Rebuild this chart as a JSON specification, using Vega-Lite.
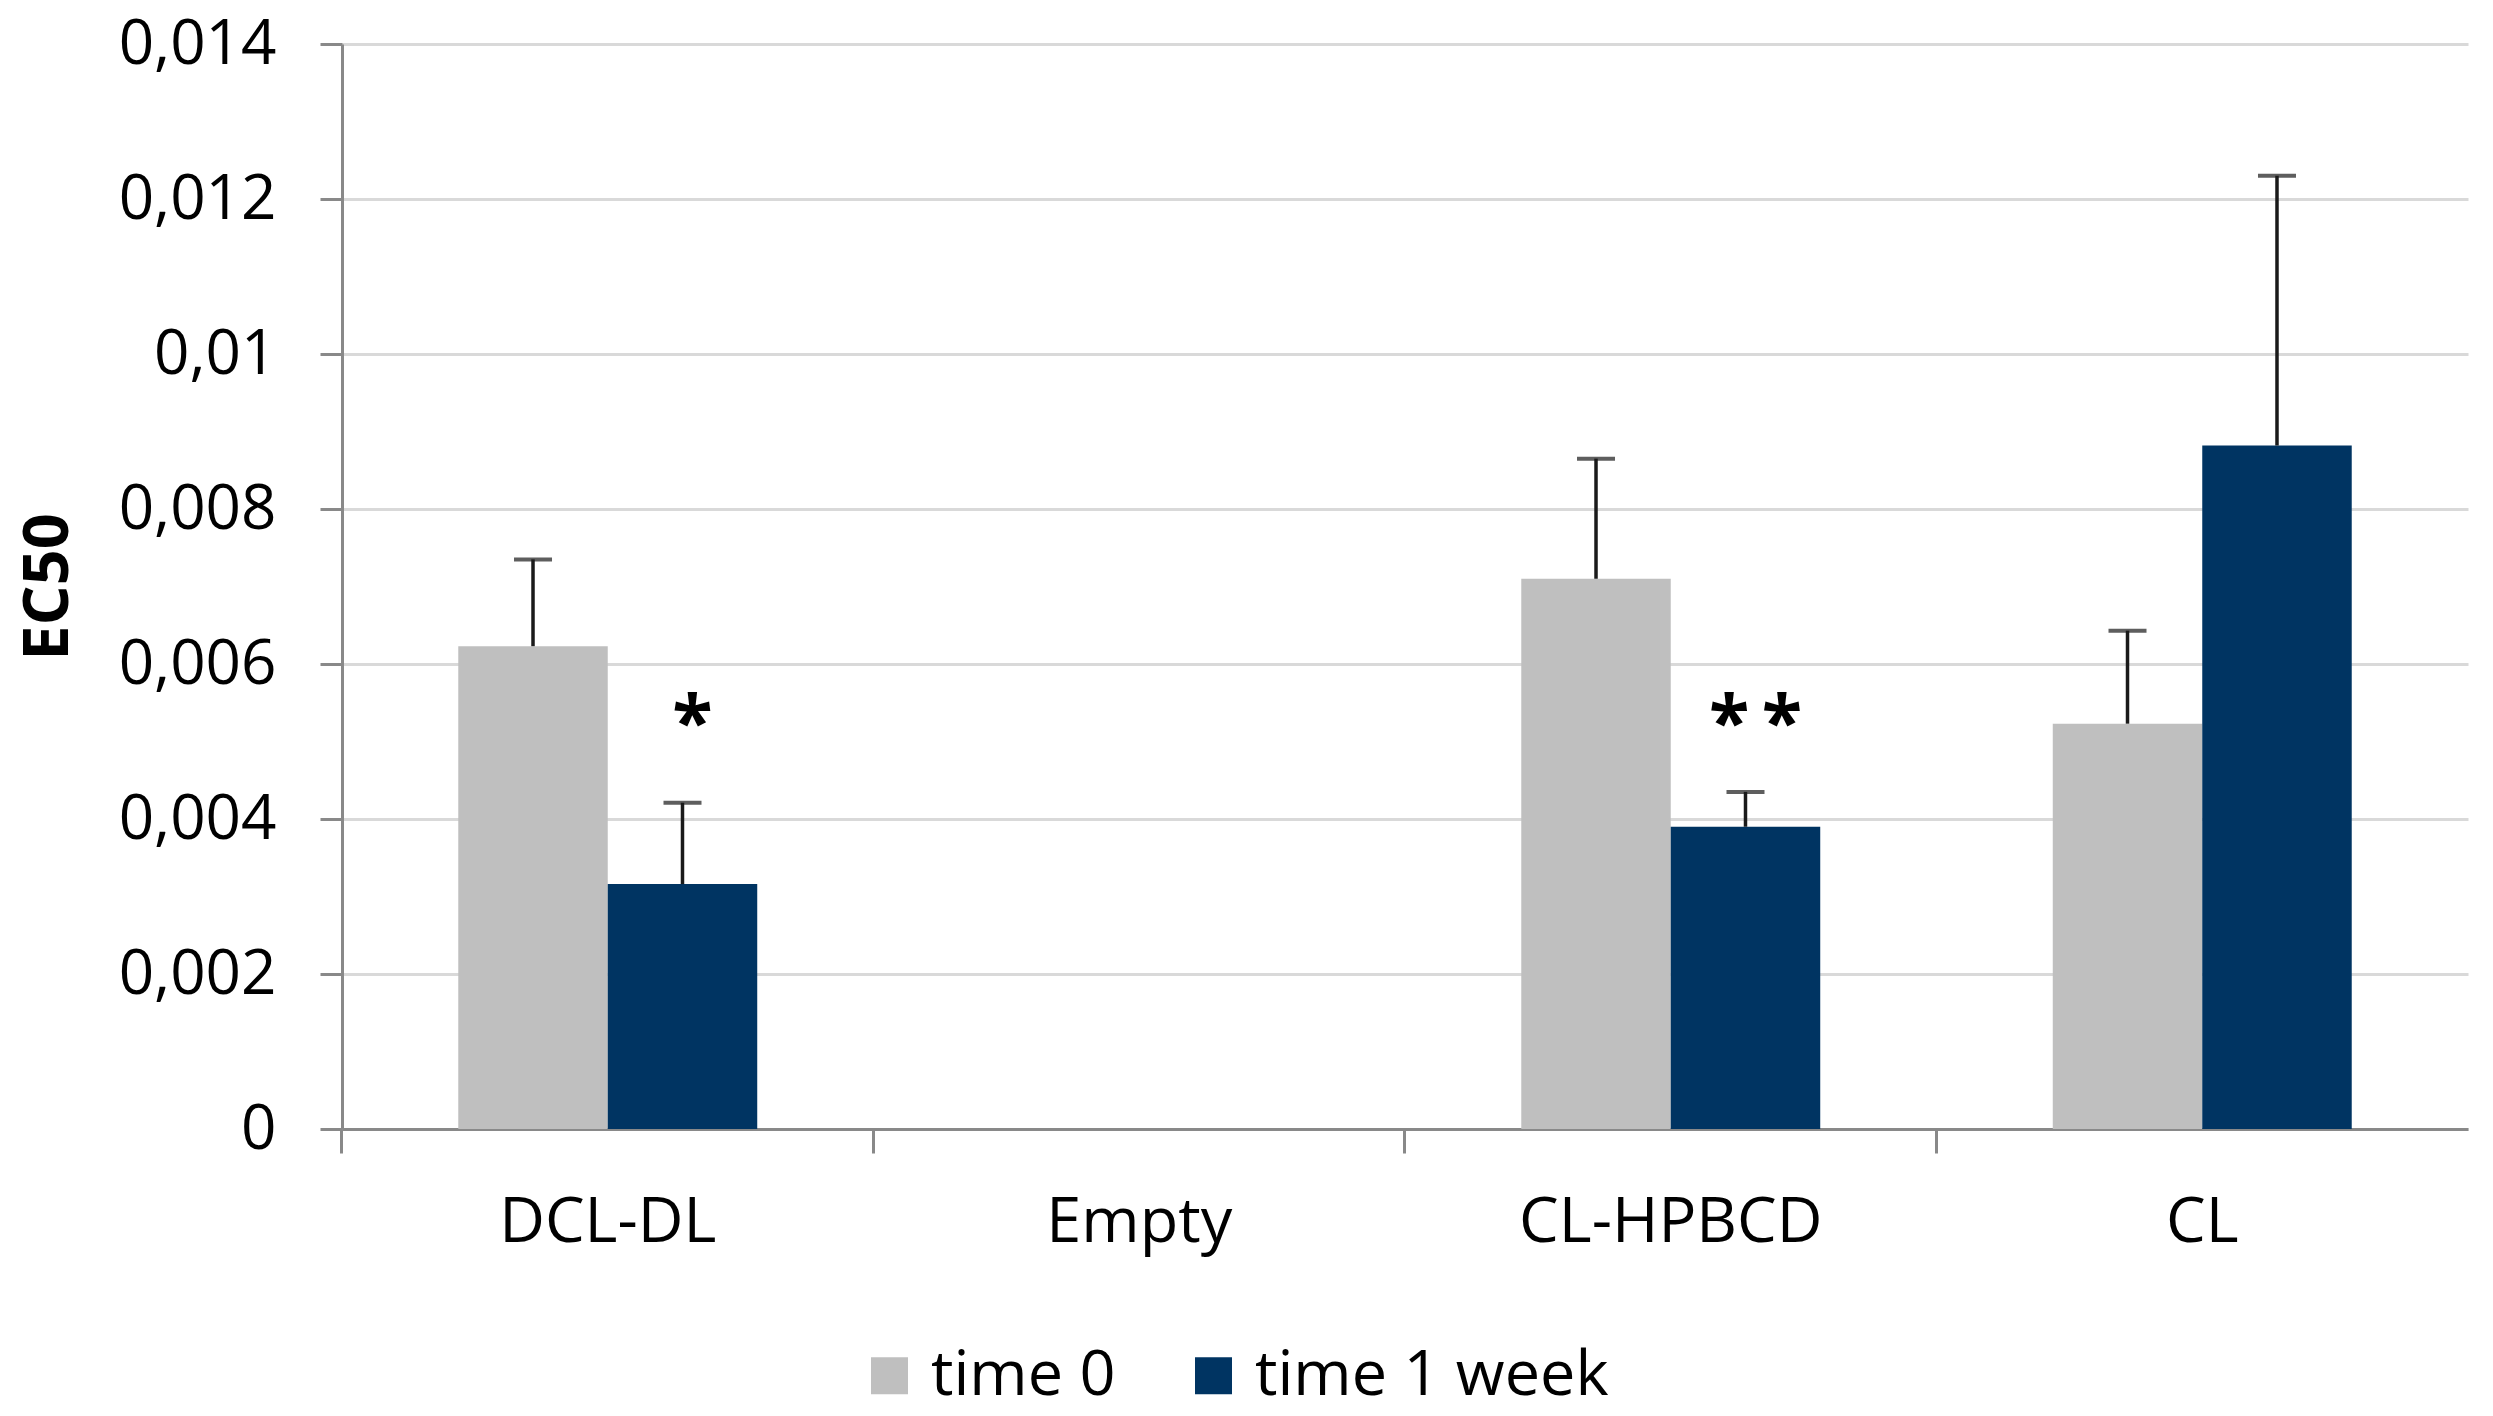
{
  "$schema": "https://vega.github.io/schema/vega-lite/v6.json",
  "width": 2126,
  "height": 1085,
  "autosize": {"type": "none"},
  "padding": {"left": 342, "top": 44, "right": 25, "bottom": 287},
  "background": "white",
  "config": {
    "view": {"stroke": null},
    "font": "Open Sans"
  },
  "datasets": {
    "bars": [
      {"group": "DCL-DL", "time": "time 0", "value": 0.00623, "upper": 0.00735},
      {"group": "DCL-DL", "time": "time 1 week", "value": 0.00316, "upper": 0.00421},
      {"group": "CL-HPBCD", "time": "time 0", "value": 0.0071, "upper": 0.00865},
      {"group": "CL-HPBCD", "time": "time 1 week", "value": 0.0039, "upper": 0.00435},
      {"group": "CL", "time": "time 0", "value": 0.00523, "upper": 0.00643},
      {"group": "CL", "time": "time 1 week", "value": 0.00882, "upper": 0.0123}
    ],
    "marks": [
      {"group": "DCL-DL", "time": "time 1 week", "label": "*", "pos": 0.0052},
      {"group": "CL-HPBCD", "time": "time 1 week", "label": "*\u2009*", "pos": 0.0052}
    ]
  },
  "layer": [
    {
      "data": {"name": "bars"},
      "mark": {"type": "bar", "strokeWidth": 0},
      "encoding": {
        "x": {
          "field": "group", "type": "nominal",
          "scale": {"domain": ["DCL-DL", "Empty", "CL-HPBCD", "CL"], "paddingInner": 0.4375, "paddingOuter": 0.21875},
          "axis": {
            "title": null,
            "bandPosition": -0.3889,
            "domainColor": "#898989", "domainWidth": 3,
            "tickColor": "#898989", "tickWidth": 3, "tickSize": 24,
            "labelFont": "Open Sans", "labelFontSize": 63, "labelColor": "#000000",
            "labelPadding": 38, "labelAngle": 0, "labelLimit": 0,
            "grid": false
          }
        },
        "xOffset": {
          "field": "time", "type": "nominal",
          "scale": {"domain": ["time 0", "time 1 week"], "paddingInner": 0, "paddingOuter": 0}
        },
        "y": {
          "field": "value", "type": "quantitative",
          "scale": {"domain": [0, 0.014], "nice": false},
          "axis": {
            "title": "EC50",
            "values": [0, 0.002, 0.004, 0.006, 0.008, 0.01, 0.012, 0.014],
            "labelExpr": "replace(toString(datum.value), '.', ',')",
            "domainColor": "#898989", "domainWidth": 3,
            "tickColor": "#898989", "tickWidth": 3, "tickSize": 22,
            "gridColor": "#D9D9D9", "gridWidth": 3,
            "labelFont": "Open Sans", "labelFontSize": 62, "labelColor": "#000000",
            "labelPadding": 44,
            "titleFont": "Open Sans", "titleFontWeight": "bold", "titleFontSize": 63,
            "titleColor": "#000000", "titlePadding": 62
          }
        },
        "color": {
          "field": "time", "type": "nominal",
          "scale": {"domain": ["time 0", "time 1 week"], "range": ["#BFBFBF", "#003462"]},
          "legend": {
            "title": null,
            "orient": "none",
            "direction": "horizontal",
            "legendX": 516,
            "legendY": 1300,
            "padding": 0,
            "symbolType": "square",
            "symbolSize": 1369,
            "symbolStrokeWidth": 0,
            "labelFont": "Open Sans",
            "labelFontSize": 63,
            "labelColor": "#000000",
            "labelOffset": 10,
            "labelLimit": 0,
            "columnPadding": 66
          }
        }
      }
    },
    {
      "data": {"name": "bars"},
      "mark": {"type": "rule", "color": "#1a1a1a", "strokeWidth": 3.5},
      "encoding": {
        "x": {"field": "group", "type": "nominal"},
        "xOffset": {"field": "time", "type": "nominal"},
        "y": {"field": "value", "type": "quantitative"},
        "y2": {"field": "upper"}
      }
    },
    {
      "data": {"name": "bars"},
      "mark": {"type": "tick", "color": "#1a1a1a", "size": 38, "thickness": 4, "orient": "horizontal"},
      "encoding": {
        "x": {"field": "group", "type": "nominal"},
        "xOffset": {"field": "time", "type": "nominal"},
        "y": {"field": "upper", "type": "quantitative"}
      }
    },
    {
      "data": {"name": "marks"},
      "mark": {"type": "text", "font": "Open Sans", "fontSize": 74, "fontWeight": "bold", "color": "#000000", "baseline": "middle", "align": "center", "dx": 10},
      "encoding": {
        "x": {"field": "group", "type": "nominal"},
        "xOffset": {"field": "time", "type": "nominal"},
        "y": {"field": "pos", "type": "quantitative"},
        "text": {"field": "label"}
      }
    }
  ]
}
